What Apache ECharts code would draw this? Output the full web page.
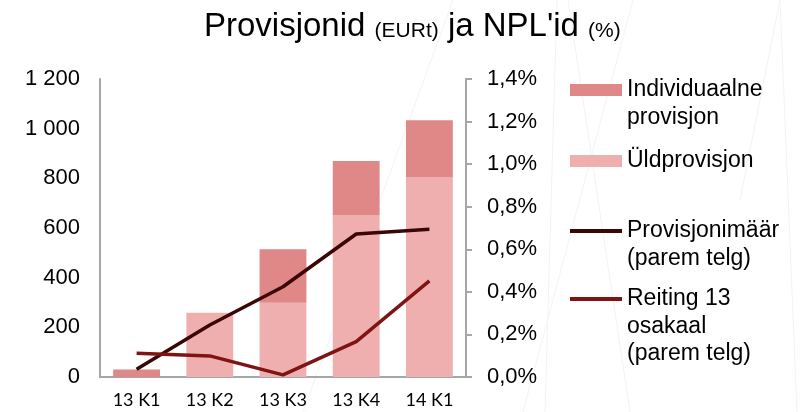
<!DOCTYPE html>
<html>
<head>
<meta charset="utf-8">
<script src="https://cdn.jsdelivr.net/npm/echarts@6/dist/echarts.min.js"></script>
<style>html,body{margin:0;padding:0;background:#fff}#c{width:802px;height:412px}</style>
</head>
<body>
<div id="c"></div>
<script>
const categories = ['13 K1', '13 K2', '13 K3', '13 K4', '14 K1'];
const uldprovisjon = [0, 259, 299, 652, 803];
const individuaalne = [30, 0, 215, 218, 231];
const provisjonimaar = [0.036, 0.244, 0.424, 0.672, 0.694];
const reiting13 = [0.111, 0.099, 0.01, 0.166, 0.452];
const leftTicks = { min: 0, max: 1200, interval: 200 };
const rightTicks = { min: 0, max: 1.4, interval: 0.2 };

const FONT = '"Liberation Sans", Arial, sans-serif';
const LFS = 23;
const deco = [
  [453, 0, 303, 412], [557, 0, 545, 412], [633, 0, 523, 412],
  [568, 0, 630, 412], [780, 0, 797, 412], [740, 200, 780, 0]
];
// extra legend lines: [text, centerY]
const legendExtra = [['provisjon', 118], ['(parem telg)', 259], ['osakaal', 327], ['(parem telg)', 354]];

const chart = echarts.init(document.getElementById('c'), null, { renderer: 'canvas' });
const legendBase = {
  orient: 'vertical', itemWidth: 52, itemGap: 0, selectedMode: false, padding: 0, left: 570,
  textStyle: { fontFamily: FONT, fontSize: LFS, color: '#000', lineHeight: 28 }
};
const graphics = deco.map(d => ({
  type: 'line', z: -10, silent: true,
  shape: { x1: d[0], y1: d[1], x2: d[2], y2: d[3] },
  style: { stroke: '#f3f3f3', lineWidth: 1 }
})).concat(legendExtra.map(e => ({
  type: 'text', silent: true, x: 627, y: e[1],
  style: { text: e[0], fontFamily: FONT, fontSize: LFS, fill: '#000', verticalAlign: 'middle', align: 'left' }
})));

chart.setOption({
  backgroundColor: '#fff',
  animation: false,
  title: {
    left: 199, top: 5,
    text: '{a|Provisjonid }{b|(EURt)}{a| ja NPL\'id }{b|(%)}',
    textStyle: {
      rich: {
        a: { fontFamily: FONT, fontSize: 33, fontWeight: 'normal', color: '#000', verticalAlign: 'bottom' },
        b: { fontFamily: FONT, fontSize: 21, fontWeight: 'normal', color: '#000', verticalAlign: 'bottom', padding: [0, 0, 1, 0] }
      }
    }
  },
  graphic: graphics,
  grid: { left: 100, right: 336, top: 79, bottom: 35, containLabel: false },
  legend: [
    Object.assign({}, legendBase, {
      top: 76, itemHeight: 12,
      data: [{ name: 'Individuaalne provisjon', icon: 'rect' }],
      formatter: () => 'Individuaalne'
    }),
    Object.assign({}, legendBase, {
      top: 147, itemHeight: 12,
      data: [{ name: 'Üldprovisjon', icon: 'rect' }]
    }),
    Object.assign({}, legendBase, {
      top: 217, itemHeight: 4,
      data: [{ name: 'Provisjonimäär (parem telg)', icon: 'rect' }],
      formatter: () => 'Provisjonimäär'
    }),
    Object.assign({}, legendBase, {
      top: 285, itemHeight: 4,
      data: [{ name: 'Reiting 13 osakaal (parem telg)', icon: 'rect' }],
      formatter: () => 'Reiting 13'
    })
  ],
  xAxis: {
    type: 'category', data: categories,
    axisLine: { lineStyle: { color: '#a6a6a6', width: 2 } },
    axisTick: { show: false },
    axisLabel: { fontFamily: 'Lato, "Open Sans", sans-serif', fontSize: 18, color: '#000', margin: 14 }
  },
  yAxis: [
    {
      type: 'value', min: leftTicks.min, max: leftTicks.max, interval: leftTicks.interval,
      axisLine: { show: true, lineStyle: { color: '#a6a6a6', width: 2 } },
      axisTick: { show: false },
      splitLine: { show: false },
      axisLabel: {
        fontFamily: FONT, fontSize: 22, color: '#000', margin: 20,
        formatter: v => String(v).replace(/\B(?=(\d{3})+(?!\d))/g, ' ')
      }
    },
    {
      type: 'value', position: 'right', min: rightTicks.min, max: rightTicks.max, interval: rightTicks.interval,
      axisLine: { show: true, lineStyle: { color: '#a6a6a6', width: 2 } },
      axisTick: { show: true, length: 6, lineStyle: { color: '#a6a6a6', width: 2 } },
      splitLine: { show: false },
      axisLabel: {
        fontFamily: FONT, fontSize: 22, color: '#000', margin: 21,
        formatter: v => v.toFixed(1).replace('.', ',') + '%'
      }
    }
  ],
  series: [
    {
      name: 'Üldprovisjon', type: 'bar', stack: 'p', data: uldprovisjon,
      barWidth: '64%', itemStyle: { color: '#f0afaf' }
    },
    {
      name: 'Individuaalne provisjon', type: 'bar', stack: 'p', data: individuaalne,
      barWidth: '64%', itemStyle: { color: '#e08787' }
    },
    {
      name: 'Provisjonimäär (parem telg)', type: 'line', yAxisIndex: 1, data: provisjonimaar,
      symbol: 'none', lineStyle: { color: '#3a0606', width: 3.5 }, itemStyle: { color: '#3a0606' }
    },
    {
      name: 'Reiting 13 osakaal (parem telg)', type: 'line', yAxisIndex: 1, data: reiting13,
      symbol: 'none', lineStyle: { color: '#7e1414', width: 3.5 }, itemStyle: { color: '#7e1414' }
    }
  ]
});
</script>
</body>
</html>
